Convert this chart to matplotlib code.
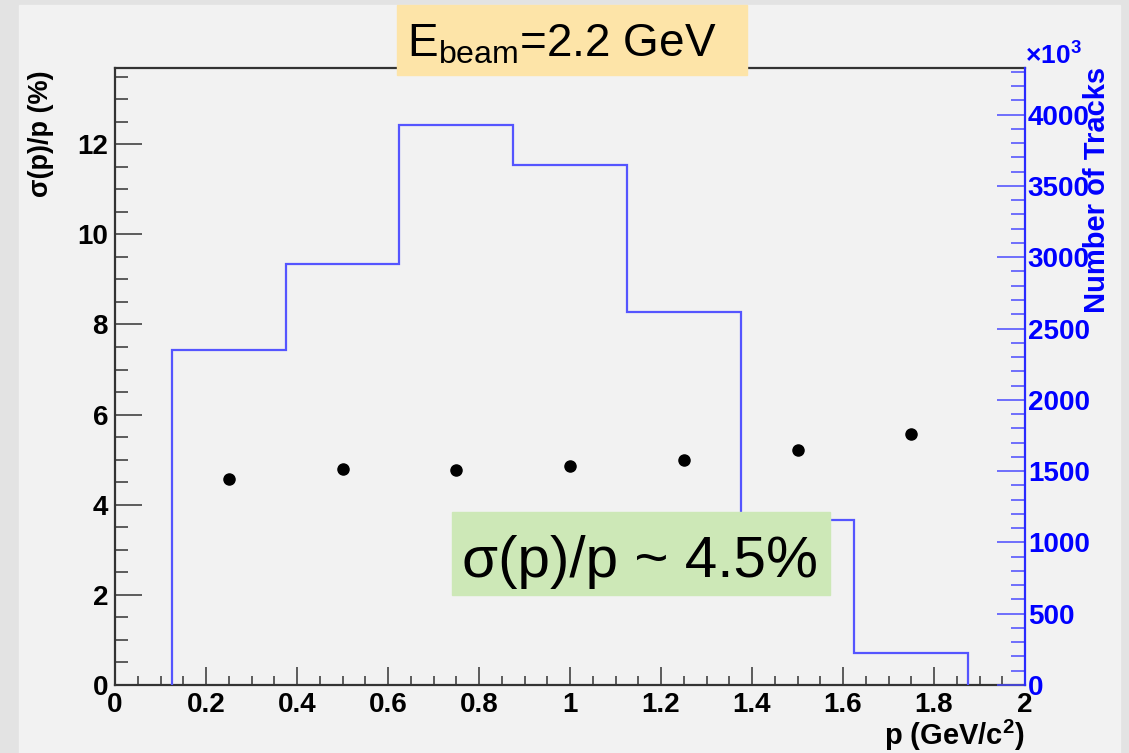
import matplotlib
matplotlib.use("Agg")
import matplotlib.pyplot as plt
from matplotlib.patches import Rectangle
from matplotlib.ticker import MultipleLocator

# data
p_points = [0.25, 0.5, 0.75, 1.0, 1.25, 1.5, 1.75]
sigma_pct = [4.58, 4.79, 4.77, 4.86, 5.00, 5.21, 5.57]
bin_edges = [0.125, 0.375, 0.625, 0.875, 1.125, 1.375, 1.625, 1.875]
n_tracks = [2350, 2950, 3925, 3650, 2615, 1160, 225]  # x10^3

x_ticks = [0, 0.2, 0.4, 0.6, 0.8, 1, 1.2, 1.4, 1.6, 1.8, 2]
x_labels = ["0", "0.2", "0.4", "0.6", "0.8", "1", "1.2", "1.4", "1.6", "1.8", "2"]
y_ticks = [0, 2, 4, 6, 8, 10, 12]
y2_ticks = [0, 500, 1000, 1500, 2000, 2500, 3000, 3500, 4000]

plt.rcParams["font.family"] = ["Liberation Sans", "DejaVu Sans"]
plt.rcParams["mathtext.fontset"] = "custom"
plt.rcParams["mathtext.rm"] = "Liberation Sans"
plt.rcParams["mathtext.bf"] = "Liberation Sans:bold"

W, H = 1129, 753
fig = plt.figure(figsize=(W / 100, H / 100), dpi=100)
fig.patch.set_facecolor("#e3e3e3")
fig.patches.append(Rectangle((19 / W, 0), (1120 - 19) / W, 1 - 5 / H,
                             transform=fig.transFigure, color="#f2f2f2", zorder=-5))

ax = fig.add_axes([115 / W, 1 - 685 / H, 910 / W, 617 / H])
ax.set_facecolor("none")
ax.set_xlim(0, 2)
ax.set_ylim(0, 13.69)

ax.plot(p_points, sigma_pct, "o", color="black", markersize=8, zorder=5)

dark = "#333333"
for s in ["left", "bottom", "top"]:
    ax.spines[s].set_color(dark)
    ax.spines[s].set_linewidth(1.6)
ax.spines["right"].set_visible(False)

ax.set_xticks(x_ticks, x_labels)
ax.set_yticks(y_ticks, [str(v) for v in y_ticks])
ax.xaxis.set_minor_locator(MultipleLocator(0.05))
ax.yaxis.set_minor_locator(MultipleLocator(0.5))
ax.tick_params(axis="x", which="major", direction="in", length=13, width=1.1,
               color=dark, pad=5, labelsize=20)
ax.tick_params(axis="x", which="minor", direction="in", length=6.5, width=1.1, color=dark)
ax.tick_params(axis="y", which="major", direction="in", length=19.5, width=1.1,
               color=dark, pad=5, labelsize=20)
ax.tick_params(axis="y", which="minor", direction="in", length=9.5, width=1.1, color=dark)
for lab in ax.get_xticklabels() + ax.get_yticklabels():
    lab.set_fontweight("bold")

# track histogram on the right axis
blue = "#0000ff"
ax2 = ax.twinx()
ax2.set_ylim(0, 4327)
ax2.stairs(n_tracks, bin_edges, baseline=0, color="#5555ff", linewidth=1.6, zorder=2)
for s in ["left", "bottom", "top"]:
    ax2.spines[s].set_visible(False)
ax2.spines["right"].set_color("#2a2aff")
ax2.spines["right"].set_linewidth(1.6)
ax2.set_yticks(y2_ticks, [str(v) for v in y2_ticks])
ax2.yaxis.set_minor_locator(MultipleLocator(100))
ax2.tick_params(axis="y", which="major", direction="in", length=20, width=1.1,
                color="#4a4aff", labelcolor=blue, pad=2, labelsize=20)
ax2.tick_params(axis="y", which="minor", direction="in", length=10, width=1.1, color="#4a4aff")
for lab in ax2.get_yticklabels():
    lab.set_fontweight("bold")

# axis titles
fig.text(41 / W, 1 - 70 / H, "σ(p)/p (%)", rotation=90, ha="center", va="top",
         fontsize=19.5, fontweight="bold")
fig.text(1097 / W, 1 - 67 / H, "Number of Tracks", rotation=90, ha="center", va="top",
         fontsize=21, fontweight="bold", color=blue)
fig.text(1025 / W, 1 - 64 / H, r"×10$^{\mathbf{3}}$", ha="left", va="baseline",
         fontsize=19, fontweight="bold", color=blue)
fig.text(1025 / W, 1 - 745 / H, r"p (GeV/c$^{\mathbf{2}}$)", ha="right", va="baseline",
         fontsize=21, fontweight="bold")

# annotation boxes
fig.patches.append(Rectangle((397 / W, 1 - 75 / H), 350 / W, 70 / H,
                             transform=fig.transFigure, color="#fde4a8", zorder=10))
fig.text(407 / W, 1 - 57 / H, r"E$_{\mathregular{beam}}$=2.2 GeV", ha="left",
         va="baseline", fontsize=33, zorder=11)
fig.patches.append(Rectangle((452 / W, 1 - 595 / H), 378 / W, 83 / H,
                             transform=fig.transFigure, color="#cde8b7", zorder=10))
fig.text(462 / W, 1 - 577 / H, "σ(p)/p ~ 4.5%", ha="left", va="baseline",
         fontsize=42, zorder=11)

fig.savefig("out.png", dpi=100, facecolor=fig.get_facecolor())
